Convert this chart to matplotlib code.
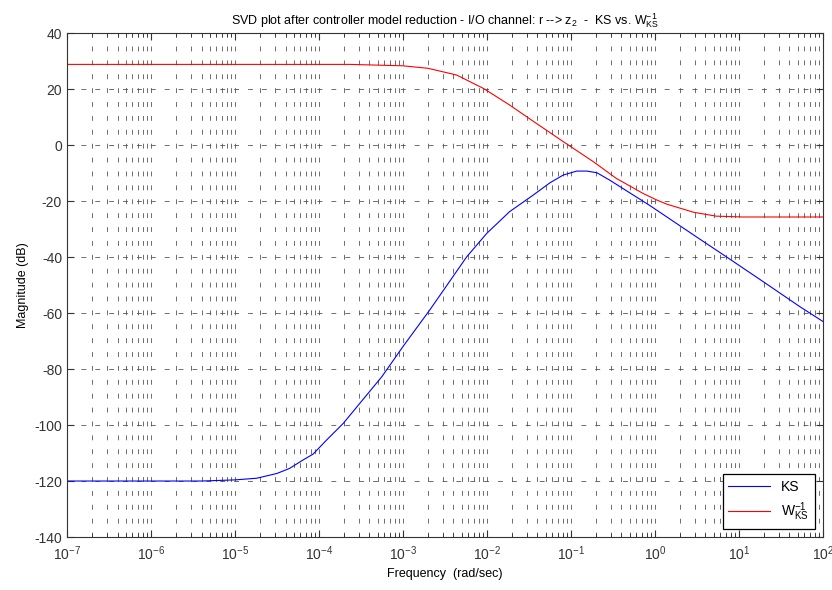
import numpy as np
import matplotlib
matplotlib.use('Agg')
import matplotlib.pyplot as plt
from matplotlib.ticker import LogLocator, MultipleLocator

plt.rcParams['font.family'] = ['Liberation Sans', 'DejaVu Sans']
plt.rcParams['mathtext.fontset'] = 'custom'
plt.rcParams['mathtext.rm'] = 'Liberation Sans'
plt.rcParams['mathtext.it'] = 'Liberation Sans'
plt.rcParams['mathtext.default'] = 'regular'
plt.rcParams['axes.unicode_minus'] = False
plt.rcParams['lines.scale_dashes'] = False

# KS curve (log10 frequency, dB)
ks_logw = [-7.0, -5.4, -5.0, -4.74, -4.50, -4.35, -4.19, -4.07, -3.91, -3.71, -3.25, -3.0,
           -2.68, -2.24, -2.0, -1.73, -1.45, -1.25, -1.09, -0.93, -0.81, -0.69, -0.54,
           -0.06, 0.46, 0.85, 1.29, 1.73, 2.0]
ks_db = [-120.0, -120.0, -119.6, -119.0, -117.3, -115.5, -112.5, -110.4, -105.4, -99.4, -82.7, -72.0,
         -58.9, -39.9, -31.5, -23.8, -17.9, -13.5, -10.7, -9.3, -9.3, -9.9, -12.5,
         -21.6, -32.1, -39.9, -48.8, -57.8, -63.0]

# inverse weight W_KS^-1
w_logw = [-7.0, -3.63, -3.0, -2.70, -2.36, -2.04, -1.73, -1.41, -1.09, -0.73, -0.46, -0.14,
          0.02, 0.14, 0.46, 0.73, 1.05, 2.0]
w_db = [28.8, 28.8, 28.3, 27.4, 25.0, 20.2, 14.3, 7.7, 1.2, -6.0, -11.9, -17.3,
        -19.6, -21.1, -24.0, -25.4, -25.7, -25.7]

fig = plt.figure(figsize=(8.32, 5.90), dpi=100)
ax = fig.add_axes([0.0805, 0.0898, 0.9085, 0.8542])

ax.semilogx(10.0 ** np.array(ks_logw), ks_db, color='#0000ff', lw=0.8, label='KS')
ax.semilogx(10.0 ** np.array(w_logw), w_db, color='#ff0000', lw=0.8, label='W$^{-1}_{KS}$')

ax.set_xlim(1e-7, 1e2)
ax.set_ylim(-140, 40)
ax.xaxis.set_major_locator(LogLocator(base=10, numticks=20))
ax.xaxis.set_minor_locator(LogLocator(base=10, subs=np.arange(2, 10), numticks=20))
ax.yaxis.set_major_locator(MultipleLocator(20))

gridstyle = dict(color='#555555', lw=0.6, linestyle=(0, (3.5, 6.5)))
ax.grid(True, which='major', axis='both', **gridstyle)
ax.grid(True, which='minor', axis='x', **gridstyle)

ax.tick_params(which='both', direction='in', top=True, right=True, labelsize=10,
               labelcolor='#333333', color='#333333')
ax.tick_params(which='major', length=5)
ax.tick_params(which='minor', length=3)
ax.tick_params(axis='x', pad=5)
for s in ax.spines.values():
    s.set_color('#333333')
    s.set_linewidth(0.8)

ax.set_xlabel('Frequency  (rad/sec)', fontsize=9)
ax.set_ylabel('Magnitude (dB)', fontsize=9)
ax.set_title('SVD plot after controller model reduction - I/O channel: r --> z$_2$  -  KS vs. W$^{-1}_{KS}$',
             fontsize=9, pad=6)

leg = ax.legend(loc='lower right', fontsize=10, fancybox=False, framealpha=1,
                edgecolor='black', borderaxespad=0.6, handlelength=3.0)
leg.get_frame().set_linewidth(0.9)

fig.savefig('out.png', dpi=100)
